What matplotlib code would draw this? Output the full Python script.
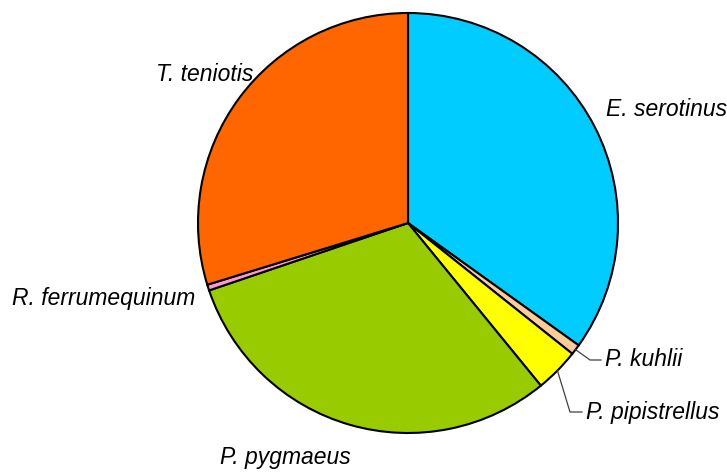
import numpy as np
import matplotlib
matplotlib.use("Agg")
import matplotlib.pyplot as plt

species = ["E. serotinus", "P. kuhlii", "P. pipistrellus", "P. pygmaeus",
           "R. ferrumequinum", "T. teniotis"]
shares = [34.9, 0.8, 3.4, 30.7, 0.45, 29.75]
colors = ["#00CCFF", "#FFCC99", "#FFFF00", "#99CC00", "#FF99CC", "#FF6600"]

W, H = 727, 473
fig = plt.figure(figsize=(W / 100, H / 100), dpi=100)
ax = fig.add_axes([0, 0, 1, 1])

cx, cy, r = 408, H - 223, 210
wedges, _ = ax.pie(shares, colors=colors, startangle=90, counterclock=False,
                   center=(cx, cy), radius=r, frame=True,
                   wedgeprops=dict(edgecolor="black", linewidth=1.5))
ax.set_xlim(0, W)
ax.set_ylim(0, H)
ax.axis("off")

font = dict(family=["Liberation Sans", "DejaVu Sans"], style="italic",
            fontsize=16.5, color="black")

# labels placed outside (pixel coords from top)
label_pos = {
    "E. serotinus": (606, 110, "left"),
    "T. teniotis": (253, 75, "right"),
    "R. ferrumequinum": (195, 298, "right"),
    "P. pygmaeus": (220, 457, "left"),
    "P. kuhlii": (605, 360, "left"),
    "P. pipistrellus": (586, 412, "left"),
}
for name, (x, y, ha) in label_pos.items():
    ax.text(x, H - y, name, ha=ha, va="center", **font)


def edge_point(w):
    mid = np.deg2rad((w.theta1 + w.theta2) / 2)
    return cx + r * np.cos(mid), cy + r * np.sin(mid)


leaders = {"P. kuhlii": [(590, 360), (601, 360)],
           "P. pipistrellus": [(570, 412), (582, 412)]}
for name, pts in leaders.items():
    w = wedges[species.index(name)]
    x0, y0 = edge_point(w)
    xs = [x0] + [p[0] for p in pts]
    ys = [y0] + [H - p[1] for p in pts]
    ax.plot(xs, ys, color="#404040", linewidth=0.9)

fig.savefig("out.png", dpi=100)
